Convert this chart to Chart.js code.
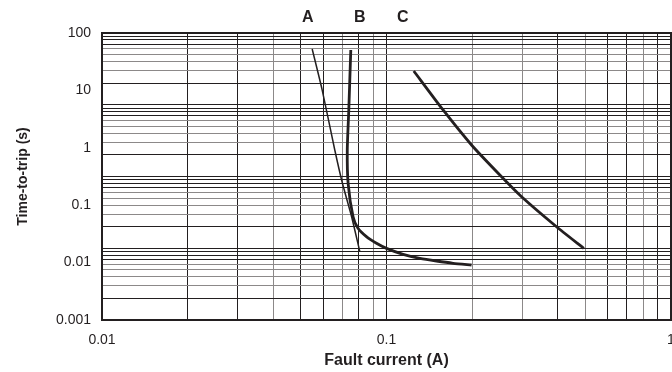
<!DOCTYPE html>
<html>
<head>
<meta charset="utf-8">
<script src="https://cdn.jsdelivr.net/npm/chart.js@4.4.1/dist/chart.umd.min.js"></script>
<style>
  body { margin: 0; background: #fff; }
</style>
</head>
<body>
<canvas id="trip-chart" width="672" height="372"></canvas>
<script>
// trip curves: fault current (A) vs time-to-trip (s)
var curveA_I = [0.0548, 0.0594, 0.0658, 0.0700, 0.0754, 0.0806];
var curveA_t = [52.6, 10.2, 0.916, 0.241, 0.063, 0.0155];

var curveB_I = [0.0749, 0.0737, 0.0728, 0.0733, 0.0763, 0.0794, 0.0850, 0.0922, 0.100, 0.1144, 0.1310, 0.1499, 0.1715, 0.199];
var curveB_t = [50.6, 4.56, 0.916, 0.241, 0.063, 0.0396, 0.0283, 0.0217, 0.0177, 0.01396, 0.01189, 0.01066, 0.00973, 0.00908];

var curveC_I = [0.1247, 0.1581, 0.199, 0.2503, 0.2984, 0.396, 0.494];
var curveC_t = [21.8, 4.56, 1.12, 0.336, 0.1406, 0.0422, 0.0177];

// letters over the plot, and the current they sit above
var curveNames = ['A', 'B', 'C'];
var nameAt = [0.0529, 0.0806, 0.1141];

var xTicks = [0.01, 0.1, 1];
var yTicks = [0.001, 0.01, 0.1, 1, 10, 100];

var ink = '#231f20';
var grey = '#8c8989';
var fontFam = '"Liberation Sans", Arial, sans-serif';

// which vertical grid lines print dark (1) or grey (0), left to right
var xGridTone = [1, 1, 1, 0, 1, 1, 0, 1, 0, 1, 0, 0, 1, 0, 1, 1, 0, 1, 1];
// horizontal lines by their digit 1..9 inside a decade
var yGridTone = [0, 1, 1, 0, 0, 0, 0, 1, 1, 1];

function pts(xs, ys) {
  return xs.map(function(v, i) { return {x: v, y: ys[i]}; });
}

function logTicks(lo, hi) {
  var t = [];
  for (var e = lo; e < hi; e++) {
    for (var m = 1; m < 10; m++) t.push({value: m * Math.pow(10, e)});
  }
  t.push({value: Math.pow(10, hi)});
  return t;
}

function isDecade(v) {
  var l = Math.log10(v);
  return Math.abs(l - Math.round(l)) < 1e-6;
}

// frame top edge + curve letters
var curveTags = {
  id: 'curveTags',
  afterDraw: function(chart) {
    var ctx = chart.ctx, a = chart.chartArea, xs = chart.scales.x;
    ctx.save();
    ctx.strokeStyle = ink;
    ctx.lineWidth = 2;
    ctx.beginPath();
    ctx.moveTo(a.left - 1, a.top);
    ctx.lineTo(a.right + 1, a.top);
    ctx.stroke();
    ctx.fillStyle = ink;
    ctx.font = 'bold 16px ' + fontFam;
    ctx.textAlign = 'center';
    ctx.textBaseline = 'middle';
    curveNames.forEach(function(n, i) {
      ctx.fillText(n, xs.getPixelForValue(nameAt[i]), a.top - 15);
    });
    ctx.restore();
  }
};

var chart = new Chart(document.getElementById('trip-chart'), {
  type: 'scatter',
  data: {
    datasets: [
      {label: 'A', data: pts(curveA_I, curveA_t), borderWidth: 1.5},
      {label: 'B', data: pts(curveB_I, curveB_t), borderWidth: 2.8},
      {label: 'C', data: pts(curveC_I, curveC_t), borderWidth: 2.8}
    ].map(function(d) {
      d.showLine = true;
      d.borderColor = ink;
      d.pointRadius = 0;
      d.tension = 0.2;
      return d;
    })
  },
  options: {
    responsive: false,
    animation: false,
    devicePixelRatio: 1,
    layout: {padding: {top: 33, left: 0, right: 0, bottom: 0}},
    plugins: {legend: {display: false}, tooltip: {enabled: false}},
    scales: {
      x: {
        type: 'logarithmic',
        min: 0.01, max: 1,
        afterBuildTicks: function(s) { s.ticks = logTicks(-2, 0); },
        afterFit: function(s) { s.height = 52; s.paddingLeft = 0; s.paddingRight = 1; },
        grid: {
          drawTicks: false,
          lineWidth: 1,
          color: function(c) { return xGridTone[c.index] ? ink : grey; }
        },
        border: {color: ink, width: 2},
        ticks: {
          autoSkip: false, maxRotation: 0, padding: 12,
          color: ink, font: {family: fontFam, size: 14},
          callback: function(v) { return isDecade(v) && xTicks.indexOf(+v.toPrecision(3)) >= 0 ? String(+v.toPrecision(3)) : ''; }
        },
        title: {
          display: true, text: 'Fault current (A)', color: ink,
          font: {family: fontFam, size: 16, weight: 'bold'},
          padding: {top: 0, bottom: 2}
        }
      },
      y: {
        type: 'logarithmic',
        position: 'left',
        min: 0.001, max: 100,
        afterBuildTicks: function(s) { s.ticks = yTicks.map(function(v) { return {value: v}; }); },
        afterFit: function(s) { s.width = 102; },
        grid: {display: false, drawTicks: false},
        border: {display: true, color: ink, width: 2},
        ticks: {
          padding: 11, color: ink, font: {family: fontFam, size: 14},
          callback: function(v) { return String(v); }
        },
        title: {
          display: true, text: 'Time-to-trip (s)', color: ink,
          font: {family: fontFam, size: 14, weight: 'bold'},
          padding: {top: 15, bottom: 0}
        }
      },
      // the printed grid runs on its own four-decade spacing
      grid4: {
        type: 'logarithmic',
        position: 'right',
        min: 1, max: 10000,
        afterBuildTicks: function(s) { s.ticks = logTicks(0, 4); },
        afterFit: function(s) { s.width = 0; },
        ticks: {display: false},
        grid: {
          drawTicks: false,
          lineWidth: 1,
          color: function(c) {
            var v = c.tick.value;
            var m = Math.round(v / Math.pow(10, Math.floor(Math.log10(v) + 1e-9)));
            return yGridTone[m] ? ink : grey;
          }
        },
        border: {color: ink, width: 2}
      }
    }
  },
  plugins: [curveTags]
});
</script>
</body>
</html>
